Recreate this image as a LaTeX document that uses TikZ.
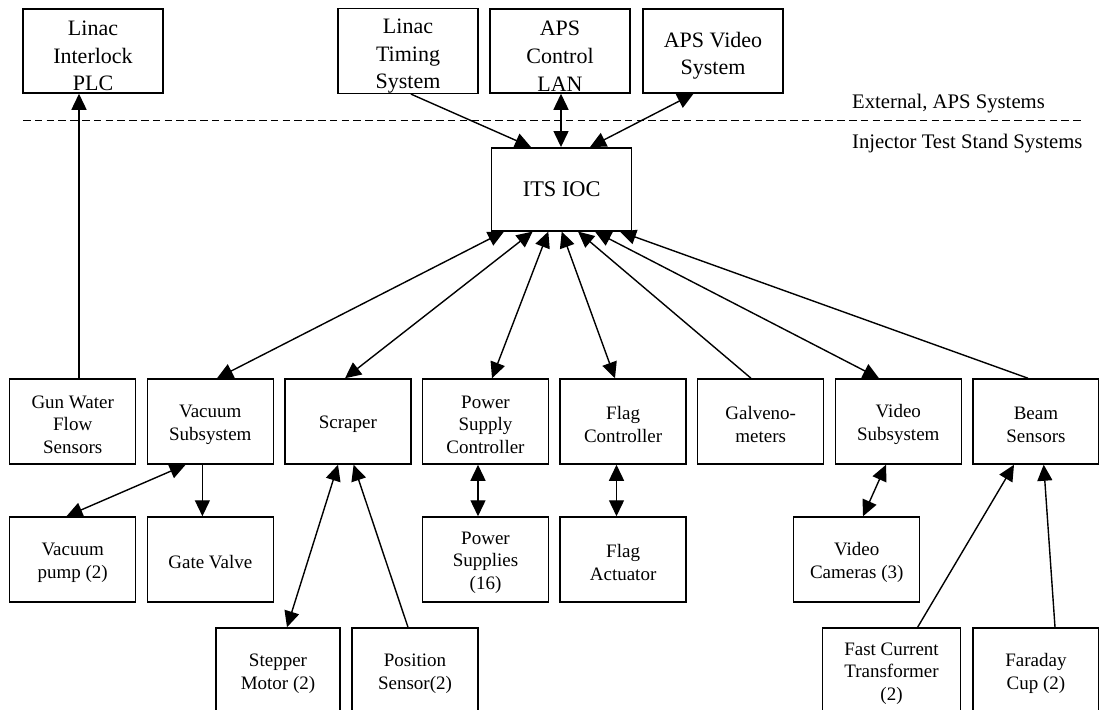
\documentclass[tikz,border=0pt]{standalone}
\usepackage{fontspec}
\setmainfont{Liberation Serif}
\usetikzlibrary{arrows.meta}
\newcommand\topstrut{\rule{0pt}{25pt}}
\newcommand\boxstrut{\rule{0pt}{19pt}}
\begin{document}
\begin{tikzpicture}[x=1pt,y=-1pt,
  box/.style={draw,line width=1.5pt,inner sep=0pt,align=center,
    minimum width=126pt,minimum height=85pt,
    font=\fontsize{19}{22.7}\selectfont},
  topbox/.style={box,minimum width=140pt,minimum height=84pt,
    font=\fontsize{22}{27.5}\selectfont},
  iocbox/.style={box,minimum width=140pt,minimum height=83pt,
    font=\fontsize{22.4}{27}\selectfont},
  conn/.style={line width=1.4pt},
  arr/.style={conn,-{Triangle[length=16pt,width=15pt]}},
  biarr/.style={conn,{Triangle[length=16pt,width=15pt]}-{Triangle[length=16pt,width=15pt]}},
  lbl/.style={anchor=west,inner sep=0pt,font=\fontsize{20.7}{24}\selectfont}]
\clip (0,0) rectangle (1099,709);
\fill[white] (0,0) rectangle (1099,709);
% top row
\node[topbox] (plc) at (93,51) {\topstrut Linac\\Interlock\\PLC};
\node[topbox] (timing) at (408,51) {\topstrut Linac\\Timing\\System};
\node[topbox] (lan) at (560,51) {\topstrut APS\\Control\\LAN};
\node[topbox] (vsys) at (713,51) {\topstrut APS Video\\System};
% divider
\coordinate (dl) at (23,120.7);
\coordinate (dr) at (1082,120.7);
\draw[line width=1.4pt,dash pattern=on 7.5pt off 4.3pt] (dl) -- (dr);
\node[lbl] (ext) at (852,104) {External, APS Systems};
\node[lbl] (inj) at (852,144) {Injector Test Stand Systems};
% IOC
\node[iocbox] (ioc) at (561.7,189.3) {ITS IOC};
% middle row
\node[box] (gun) at (72.7,421.5) {\boxstrut Gun Water\\Flow\\Sensors};
\node[box] (vac) at (210.3,421.5) {\boxstrut Vacuum\\Subsystem};
\node[box] (scr) at (347.9,421.5) {\rule{0pt}{18pt}Scraper};
\node[box] (psc) at (485.5,421.5) {\boxstrut Power\\Supply\\Controller};
\node[box] (flag) at (623.1,421.5) {\boxstrut Flag\\Controller};
\node[box] (galv) at (760.7,421.5) {\boxstrut Galveno-\\meters};
\node[box] (vsub) at (898.3,421.5) {\boxstrut Video\\Subsystem};
\node[box] (beam) at (1035.9,421.5) {\boxstrut Beam\\Sensors};
% third row
\node[box] (pump) at (72.7,559.5) {\boxstrut Vacuum\\pump (2)};
\node[box] (gate) at (210.3,559.5) {\rule{0pt}{18pt}Gate Valve};
\node[box] (supp) at (485.5,559.5) {\boxstrut Power\\Supplies\\(16)};
\node[box] (act) at (623.1,559.5) {\boxstrut Flag\\Actuator};
\node[box] (cam) at (856.7,559.5) {\boxstrut Video\\Cameras (3)};
% bottom row
\node[box,minimum width=124pt] (step) at (278,670.5) {\boxstrut Stepper\\Motor (2)};
\node[box] (pos) at (415,670.5) {\boxstrut Position\\Sensor(2)};
\node[box,minimum width=137.6pt] (fct) at (891.5,670.5) {\boxstrut Fast Current\\Transformer\\(2)};
\node[box] (far) at (1035.9,670.5) {\boxstrut Faraday\\Cup (2)};
% connectors: external
\draw[arr] ([xshift=6.3pt]gun.north) -- ([xshift=-14pt]plc.south);
\draw[arr] ([xshift=3pt]timing.south) -- ([xshift=-30.7pt]ioc.north);
\draw[biarr] ([xshift=1pt]lan.south) -- ([xshift=-0.7pt]ioc.north);
\draw[biarr] ([xshift=-19.5pt]vsys.south) -- ([xshift=28.3pt]ioc.north);
% connectors: IOC to subsystems
\draw[biarr] ([xshift=6.7pt]vac.north) -- ([xshift=-57.7pt]ioc.south);
\draw[biarr] ([xshift=-2.9pt]scr.north) -- ([xshift=-29pt]ioc.south);
\draw[biarr] ([xshift=6.5pt]psc.north) -- ([xshift=-13.4pt]ioc.south);
\draw[biarr] ([xshift=-8.1pt]flag.north) -- ([xshift=0pt]ioc.south);
\draw[arr] ([xshift=-9.7pt]galv.north) -- ([xshift=16.3pt]ioc.south);
\draw[biarr] ([xshift=-19.3pt]vsub.north) -- ([xshift=33.3pt]ioc.south);
\draw[arr] ([xshift=-7.9pt]beam.north) -- ([xshift=58.3pt]ioc.south);
% connectors: lower
\draw[biarr] ([xshift=-24.7pt]vac.south) -- ([xshift=-6.2pt]pump.north);
\draw[arr] ([xshift=-7.9pt]vac.south) -- ([xshift=-7.9pt]gate.north);
\draw[biarr] ([xshift=-9.9pt]scr.south) -- ([xshift=9pt]step.north);
\draw[arr] ([xshift=-7pt]pos.north) -- ([xshift=5.7pt]scr.south);
\draw[biarr] ([xshift=-7.5pt]psc.south) -- ([xshift=-7.5pt]supp.north);
\draw[biarr] ([xshift=-6.6pt]flag.south) -- ([xshift=-6.6pt]act.north);
\draw[biarr] ([xshift=-12.3pt]vsub.south) -- ([xshift=6.3pt]cam.north);
\draw[arr] ([xshift=26.1pt]fct.north) -- ([xshift=-21.9pt]beam.south);
\draw[arr] ([xshift=19.1pt]far.north) -- ([xshift=7.8pt]beam.south);
\end{tikzpicture}
\end{document}
